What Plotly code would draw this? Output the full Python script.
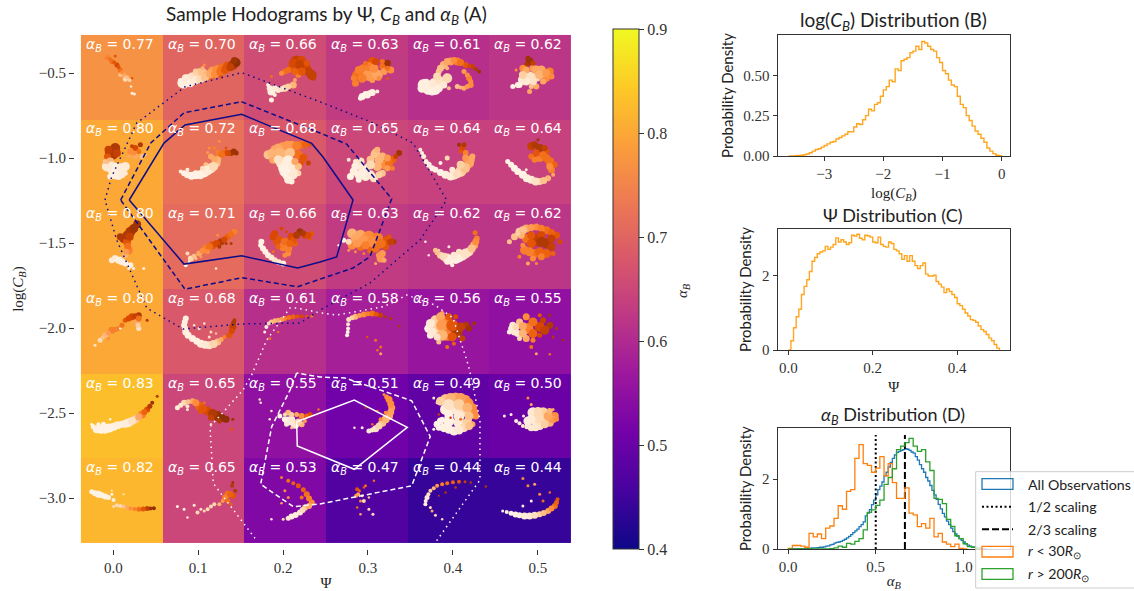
import plotly.graph_objects as go

W, H = 1134, 591

# ---------- panel A: mean alpha_B per bin ----------
ALPHA_ROW0 = [0.77, 0.70, 0.66, 0.63, 0.61, 0.62]
ALPHA_ROW1 = [0.80, 0.72, 0.68, 0.65, 0.64, 0.64]
ALPHA_ROW2 = [0.80, 0.71, 0.66, 0.63, 0.62, 0.62]
ALPHA_ROW3 = [0.80, 0.68, 0.61, 0.58, 0.56, 0.55]
ALPHA_ROW4 = [0.83, 0.65, 0.55, 0.51, 0.49, 0.50]
ALPHA_ROW5 = [0.82, 0.65, 0.53, 0.47, 0.44, 0.44]
PSI_EDGES = [-0.0381, 0.0581, 0.1542, 0.2504, 0.3466, 0.4428, 0.5391]
LOGC_EDGES = [-0.276, -0.774, -1.274, -1.771, -2.271, -2.765, -3.265]

# hodogram samples, (u, v, time shade, weight) in each cell's hodogram frame
FRAME_U = [33, 276, 519, 12, 257, 500]
FRAME_V = [45, 300, 13, 267, 13, 267]
FRAME_W, FRAME_H = 243.0, 254.0

H00 = [(110,112,.55,5),(135,108,.7,3),(125,125,.6,5),(140,135,.75,5),(150,150,.6,5),(160,165,.4,5),(165,178,.2,5),(178,180,.25,4),(185,175,.7,2.5),(182,200,.1,2.5),(185,220,.05,3),(192,222,.05,3),(150,165,.3,4),
       (120,118,.6,4),(132,128,.7,4),(145,142,.7,4),(155,158,.5,4),(170,172,.3,4),(105,108,.5,3)]
H01 = [(335,190,.05,10),(350,182,.1,12),(365,175,.15,12),(380,170,.2,11),(395,160,.3,10),(375,155,.25,6),(410,165,.35,9),(425,155,.45,10),(440,150,.5,10),(455,145,.6,10),(470,140,.7,10),(485,135,.85,10),(495,128,.95,9),(450,170,.7,4),(420,175,.6,4),(400,135,.5,3),
       (345,175,.1,8),(358,190,.05,8),(372,182,.1,9),(388,178,.2,8),(402,172,.3,8),(418,162,.4,8),(432,162,.5,8),(448,155,.6,8),(462,150,.7,8),(478,142,.8,8),(490,122,.9,7),(385,150,.3,4),(395,145,.35,4),(330,183,.05,6),(340,195,.05,7)]
H02 = [(675,125,.8,12),(690,120,.75,8),(700,145,.75,12),(720,165,.8,10),(660,145,.7,8),(640,155,.6,6),(680,165,.55,6),(665,195,.35,7),(640,205,.2,7),(620,210,.1,6),(600,215,.05,8),(590,195,.05,4),(600,240,.05,5),(610,225,.05,4),(670,180,.4,4),(600,170,.6,3),
       (665,130,.75,9),(685,135,.8,10),(705,130,.7,6),(710,155,.8,9),(690,155,.7,8),(725,175,.8,5),(670,155,.65,7),(650,150,.6,6),(630,160,.5,5),(650,200,.25,6),(630,207,.15,6),(595,205,.05,6),(610,205,.08,6)]
H03 = [(150,125,.7,9),(125,150,.55,12),(105,165,.6,10),(100,190,.55,7),(140,165,.45,12),(165,165,.4,11),(195,130,.9,7),(180,140,.6,6),(205,150,.5,7),(170,175,.5,5),(120,230,.02,7),(135,225,.02,7),(150,218,.05,7),(165,215,.05,4),(195,175,.7,3),
       (140,140,.55,9),(110,150,.55,8),(155,145,.5,9),(120,175,.55,9),(150,180,.45,6),(185,155,.45,7),(195,145,.6,5),(130,130,.6,5),(160,125,.75,7),(130,222,.02,6),(142,220,.03,6),(115,235,.02,5),(95,175,.55,6),(180,125,.6,5)]
H04 = [(305,195,.05,12),(320,205,.05,13),(340,210,.05,10),(335,190,.1,10),(355,185,.15,10),(375,175,.2,10),(350,155,.3,6),(365,135,.35,8),(385,125,.45,8),(405,125,.55,8),(430,135,.7,6),(450,140,.8,5),(470,155,.9,4),(425,155,.45,5),(440,175,.55,6),(445,195,.5,6),(425,205,.4,5),(405,200,.3,5),(380,205,.3,4),
       (300,205,.05,9),(312,190,.05,9),(330,215,.03,8),(350,205,.05,8),(365,195,.1,7),(345,170,.2,8),(355,145,.3,7),(375,125,.4,7),(395,120,.5,6),(415,128,.6,7),(440,138,.75,4),(460,148,.85,4),(435,165,.5,5),(445,185,.5,5),(435,200,.45,5),(415,203,.35,4),(375,145,.35,4)]
H05 = [(620,125,.9,8),(610,135,.85,5),(600,145,.5,7),(630,145,.45,7),(655,150,.4,9),(680,155,.55,8),(640,170,.2,10),(620,170,.15,10),(600,180,.1,10),(590,195,.05,6),(570,200,.02,5),(670,175,.5,7),(640,200,.4,6),(620,215,.4,5),(665,185,.5,4),
       (610,150,.4,7),(640,150,.4,9),(650,165,.35,9),(630,185,.15,8),(610,185,.1,8),(600,165,.25,8),(585,195,.05,6),(670,160,.45,8),(685,170,.5,6),(660,185,.4,6),(625,200,.3,5),(630,130,.8,5),(615,115,.9,5),(580,150,.5,3)]

H10 = [(125,400,.85,14),(112,410,.7,7),(195,385,.75,6),(210,375,.85,5),(180,395,.5,6),(195,410,.4,6),(215,410,.3,5),(110,440,.1,10),(130,450,.05,12),(150,455,.05,12),(165,440,.1,9),(120,470,.05,6),(145,470,.05,7),(165,460,.1,5),(225,405,.3,3),
       (135,385,.85,10),(115,390,.8,8),(140,400,.8,8),(120,425,.35,8),(105,425,.3,5),(125,440,.1,10),(140,445,.05,11),(155,445,.08,10),(135,465,.04,9),(155,465,.08,7),(205,395,.6,5),(190,400,.5,5),(185,380,.8,4),(175,410,.4,4)]
H11 = [(330,455,.05,4),(350,465,.05,7),(375,465,.03,9),(400,458,.05,10),(420,445,.15,10),(435,430,.3,9),(420,410,.4,6),(445,405,.55,8),(460,400,.65,6),(480,400,.85,6),(495,400,.9,5),(430,385,.55,4),(445,365,.5,3),(415,385,.5,3),(465,385,.7,3),(405,435,.3,5),(350,450,.05,4),
       (340,460,.03,6),(362,468,.03,8),(388,465,.03,9),(410,452,.08,10),(428,440,.2,9),(440,420,.35,7),(430,418,.4,6),(452,403,.6,7),(470,400,.75,6),(488,395,.9,6),(440,395,.55,4),(410,398,.45,3),(395,445,.15,5)]
H12 = [(590,405,.3,9),(610,390,.4,9),(635,385,.45,12),(660,380,.45,11),(690,375,.6,8),(715,375,.7,4),(605,420,.4,8),(640,410,.3,12),(680,405,.6,9),(710,430,.8,5),(690,430,.7,5),(630,430,.1,11),(655,440,.05,13),(650,465,.05,12),(635,445,.05,10),(660,485,.05,6),(680,460,.2,6),
       (600,400,.35,8),(620,385,.4,9),(648,378,.45,10),(675,378,.55,9),(700,375,.65,6),(625,400,.35,11),(655,400,.3,10),(695,415,.7,8),(620,420,.15,9),(650,425,.05,12),(665,445,.08,11),(640,455,.03,11),(665,465,.1,9),(650,480,.05,8),(680,440,.3,7),(670,425,.4,7)]
H13 = [(230,400,.9,6),(210,420,.65,8),(185,435,.5,9),(160,400,.3,9),(145,420,.3,8),(180,410,.35,8),(115,425,.15,8),(80,420,.1,4),(100,440,.05,8),(85,470,.02,7),(110,465,.05,9),(130,470,.1,9),(155,475,.15,8),(180,460,.3,7),(210,445,.55,5),(130,445,.1,8),(110,480,.05,6),
       (220,410,.8,5),(200,430,.6,8),(195,415,.45,7),(170,420,.35,9),(155,405,.3,7),(165,440,.35,9),(145,435,.2,9),(120,445,.08,8),(125,465,.05,9),(95,455,.05,8),(145,465,.1,9),(170,465,.25,7),(165,390,.35,6),(195,445,.45,6),(100,425,.1,5)]
H14 = [(295,390,.05,4),(305,410,.05,5),(320,435,.05,6),(340,450,.03,6),(370,465,.05,8),(395,465,.15,10),(415,455,.25,11),(440,430,.4,10),(450,410,.4,6),(420,385,.75,6),(430,400,.55,6),(410,375,.9,4),(375,415,.2,5),(355,430,.02,4),
       (300,400,.05,4),(312,425,.04,5),(330,445,.03,6),(355,458,.03,7),(385,470,.08,8),(405,462,.18,9),(428,445,.3,10),(445,420,.4,8),(430,415,.45,7),(415,395,.7,4),(425,375,.85,5),(390,450,.1,6),(415,435,.25,8)]
H15 = [(625,380,.8,8),(650,385,.85,8),(670,395,.7,6),(625,410,.6,6),(650,415,.55,8),(680,425,.6,9),(685,450,.55,7),(555,425,.02,5),(575,445,.02,7),(600,465,.03,8),(625,480,.1,8),(650,485,.25,7),(675,475,.35,6),(590,455,.05,4),(610,450,.1,3),
       (635,375,.85,7),(665,385,.8,6),(640,400,.7,7),(660,405,.6,7),(635,420,.55,6),(670,415,.6,8),(695,435,.65,6),(680,440,.5,7),(565,435,.02,6),(585,455,.02,7),(612,475,.05,8),(638,485,.15,8),(662,482,.3,7),(690,465,.4,4),(645,360,.9,3)]

H20 = [(200,72,.9,8),(180,95,.85,10),(160,115,.85,9),(170,125,.7,8),(175,150,.55,8),(165,165,.35,6),(135,175,.1,7),(155,185,.05,7),(180,195,.05,6),(190,205,.03,3),(220,205,.05,3),(150,175,.1,4),
       (190,85,.9,9),(170,105,.85,9),(150,110,.85,7),(178,110,.8,8),(172,138,.6,7),(168,155,.45,6),(125,180,.08,6),(145,180,.05,7),(165,190,.04,6),(175,205,.05,3)]
H21 = [(345,195,.05,4),(360,175,.2,6),(350,160,.2,4),(385,160,.4,6),(405,145,.55,8),(425,135,.7,8),(450,125,.85,7),(470,110,.65,6),(490,95,.55,6),(480,130,.85,3),(440,105,.5,3),(375,175,.3,3),(435,205,.1,2.5),
       (395,152,.5,6),(415,140,.6,7),(437,130,.75,7),(460,118,.75,6),(480,102,.6,6),(370,168,.3,5),(355,185,.1,3),(410,155,.5,5),(445,140,.85,4),(465,130,.85,3),(390,170,.45,3)]
H22 = [(570,125,.02,6),(575,145,.03,6),(590,165,.05,6),(610,180,.15,6),(635,190,.05,6),(610,100,.75,7),(630,85,.75,4),(615,125,.7,7),(635,140,.55,9),(660,110,.75,8),(685,95,.9,7),(700,105,.75,7),(720,100,.7,5),(650,160,.5,6),(670,130,.65,6),(715,115,.7,4),(605,155,.6,3),
       (568,135,.02,5),(582,155,.04,6),(600,172,.1,6),(622,186,.1,6),(605,110,.75,7),(625,115,.7,6),(640,125,.6,8),(650,145,.55,8),(665,120,.7,7),(675,105,.85,7),(695,100,.85,6),(710,105,.75,6),(640,165,.5,5),(655,130,.65,7),(620,140,.65,5),(645,95,.75,3)]
H23 = [(90,100,.35,10),(115,105,.4,11),(140,110,.5,12),(165,115,.55,12),(195,120,.7,9),(215,125,.85,5),(65,120,.05,5),(90,135,.5,9),(115,140,.6,8),(145,150,.65,7),(190,140,.7,7),(175,175,.45,8),(160,190,.4,3),(100,155,.5,3),(125,160,.55,3),(50,135,.05,2.5),
       (100,115,.4,9),(125,120,.45,10),(150,125,.5,11),(175,130,.6,10),(205,125,.8,7),(80,125,.2,6),(105,130,.45,8),(130,135,.55,8),(160,145,.6,8),(180,160,.45,7),(185,180,.4,5),(170,165,.45,6),(80,150,.45,3),(200,110,.7,5)]
H24 = [(310,125,.02,2.5),(320,165,.05,2.5),(340,150,.3,5),(355,165,.25,7),(375,175,.1,10),(400,175,.05,11),(420,165,.1,11),(440,155,.2,9),(455,135,.4,8),(463,115,.55,6),(458,98,.6,5),(380,140,.1,3),(390,195,.03,4),
       (345,158,.3,5),(365,170,.18,8),(385,180,.05,9),(410,172,.05,10),(430,160,.15,10),(448,145,.3,8),(460,125,.5,7),(395,165,.1,7),(410,155,.15,6),(375,185,.05,6),(350,150,.25,3)]
H25 = [(590,95,.25,8),(575,110,.3,7),(560,125,.3,5),(610,85,.4,8),(640,80,.5,7),(670,90,.6,8),(700,105,.7,7),(710,125,.75,5),(610,115,.6,9),(640,120,.8,12),(670,130,.85,10),(605,150,.55,9),(635,160,.6,9),(670,160,.65,9),(690,160,.65,5),(615,190,.4,4),(590,170,.55,4),(640,190,.5,3),
       (600,90,.3,8),(625,82,.45,7),(655,84,.55,7),(685,97,.65,7),(595,105,.35,7),(625,105,.7,8),(655,105,.75,8),(685,115,.8,8),(625,130,.7,9),(655,125,.85,10),(685,140,.8,8),(620,155,.55,9),(650,155,.65,9),(655,170,.55,7),(630,175,.5,6),(600,135,.5,5),(585,100,.25,5)]

H30 = [(75,435,.15,3),(90,420,.2,5),(105,405,.35,6),(125,390,.55,7),(145,385,.55,5),(165,360,.7,5),(185,350,.75,7),(205,345,.85,6),(200,365,.4,7),(205,385,.15,5),(230,360,.85,3),(150,385,.03,2.5),(115,415,.5,3),
       (115,398,.45,5),(135,388,.55,5),(155,375,.6,5),(175,355,.75,6),(195,348,.8,6),(205,355,.6,6),(98,412,.3,4),(203,375,.25,5)]
H31 = [(345,355,.05,6),(340,375,.05,6),(345,395,.05,7),(365,415,.05,7),(390,430,.05,8),(415,435,.15,8),(440,425,.3,7),(460,410,.55,4),(490,360,.85,4),(485,380,.8,7),(475,405,.7,6),(370,375,.1,2.5),(400,370,.1,2.5),(420,395,.2,3),(415,410,.15,3),(435,400,.3,2.5),(385,385,.05,3),
       (342,365,.05,6),(343,385,.05,6),(352,405,.04,7),(378,423,.04,7),(402,433,.1,8),(428,431,.22,8),(450,418,.4,5),(482,392,.75,6),(487,368,.85,5)]
H32 = [(580,395,.05,3),(585,380,.05,4),(600,365,.3,5),(620,360,.4,5),(640,355,.55,5),(665,350,.65,5),(690,348,.75,4),(720,348,.6,3),(595,415,.6,3),(620,395,.6,2.5),
       (610,362,.35,5),(630,358,.45,5),(652,352,.6,5),(678,349,.7,4),(705,348,.7,3),(592,370,.2,4)]
H33 = [(75,405,.02,4),(78,385,.05,4),(80,358,.15,5),(100,350,.35,6),(125,343,.5,6),(150,340,.6,6),(175,345,.8,5),(205,355,.85,3),(230,378,.85,2.5),(135,410,.7,2.5),(160,420,.6,3),(175,440,.6,3),(165,450,.6,2.5),(175,460,.4,3),
       (77,395,.03,4),(78,372,.1,4),(90,353,.25,5),(112,346,.45,5),(137,341,.55,5),(162,342,.7,5),(190,350,.85,3)]
H34 = [(320,385,.03,9),(325,405,.05,7),(340,360,.25,10),(345,390,.25,14),(370,370,.55,14),(380,350,.7,7),(375,405,.55,11),(405,395,.85,11),(430,375,.85,7),(455,370,.9,4),(420,415,.8,6),(350,425,.3,5),(360,340,.45,5),(375,440,.6,4),
       (325,370,.1,9),(355,350,.4,9),(330,395,.1,9),(360,375,.45,12),(360,405,.35,11),(390,375,.7,12),(415,380,.8,9),(390,410,.7,9),(345,410,.15,7),(400,350,.75,5),(440,385,.9,6),(395,430,.65,4)]
H35 = [(560,395,.03,5),(570,375,.1,7),(585,400,.1,7),(590,365,.3,7),(610,350,.5,7),(650,345,.7,4),(680,345,.9,3),(615,385,.55,11),(650,380,.75,10),(680,375,.85,7),(610,415,.4,7),(650,405,.75,5),(690,410,.85,3),(720,420,.9,2.5),(625,440,.6,4),(640,460,.4,3),(680,462,.6,2.5),
       (565,385,.07,6),(575,395,.1,7),(580,380,.2,7),(600,378,.4,8),(600,400,.35,8),(630,365,.6,9),(630,400,.65,9),(665,390,.8,9),(660,360,.8,6),(630,420,.55,5),(590,415,.2,5),(700,385,.85,3)]

H40 = [(65,165,.02,3),(80,180,.03,8),(105,178,.02,10),(130,172,.03,8),(155,165,.05,7),(175,160,.1,9),(195,150,.25,8),(215,135,.55,8),(230,120,.75,6),(245,100,.9,4),(260,80,.85,3),(120,150,.03,2.5),
       (70,172,.03,5),(92,180,.02,9),(118,176,.02,9),(142,168,.04,8),(165,163,.07,8),(185,155,.15,8),(205,143,.4,7),(222,128,.65,6),(238,110,.85,5),(100,165,.03,5),(85,165,.03,4)]
H41 = [(320,115,.08,5),(340,100,.2,6),(365,95,.4,6),(385,110,.65,9),(410,125,.75,9),(440,140,.9,10),(465,150,.95,7),(480,180,.7,3),(350,120,.1,3),(400,100,.6,3),(420,165,.2,2.5),(485,150,.9,3),
       (330,107,.12,5),(352,97,.3,5),(375,100,.5,7),(397,118,.7,8),(425,132,.85,9),(452,145,.95,8),(390,125,.7,6),(420,145,.8,6),(445,155,.85,5),(350,110,.15,4)]
H42 = [(565,90,.1,2.5),(568,100,.1,2.5),(600,125,.05,2.5),(595,150,.05,2.5),(625,140,.02,5),(650,130,.35,6),(650,155,.05,9),(670,165,.1,9),(690,165,.35,6),(690,140,.5,6),(715,135,.75,5),(740,120,.6,2.5),(660,175,.3,3),
       (640,150,.03,6),(660,150,.1,7),(680,158,.25,7),(660,135,.25,5),(675,135,.4,5),(705,140,.65,5),(640,135,.2,4),(700,155,.45,4),(645,165,.1,5)]
H43 = [(185,75,.5,3),(200,90,.5,7),(208,115,.45,7),(200,140,.4,8),(180,160,.3,8),(160,178,.15,7),(140,185,.1,5),(120,175,.05,3),(97,175,.05,2.5),(130,115,.85,2.5),(165,125,.7,2.5),(150,165,.6,2.5),
       (193,82,.5,5),(205,103,.5,7),(205,128,.42,7),(190,150,.35,8),(170,170,.22,7),(150,182,.12,5),(190,130,.5,4),(175,150,.5,4)]
H44 = [(380,155,.03,11),(410,160,.08,11),(435,160,.25,10),(355,155,.03,7),(335,85,.1,3),(345,100,.1,3),(370,90,.3,11),(400,85,.4,11),(430,90,.45,9),(450,115,.5,9),(460,140,.5,7),(395,115,.1,13),(425,125,.2,11),(370,120,.05,11),(345,165,.02,7),(365,175,.03,9),(395,185,.05,9),(425,175,.2,9),(450,165,.4,6),(335,180,.02,3),
       (355,95,.25,9),(385,85,.35,10),(415,85,.42,10),(440,100,.48,9),(455,128,.5,8),(380,105,.15,11),(410,105,.25,11),(435,115,.35,10),(440,140,.3,9),(410,140,.1,11),(380,140,.03,9),(350,175,.03,6),(380,180,.04,9),(410,182,.1,9),(440,170,.3,8),(360,150,.03,5),
       (350,135,.8,2.5),(385,145,.8,2.5),(415,150,.6,3)]
H45 = [(640,160,.1,9),(660,150,.2,9),(680,145,.35,9),(545,140,.03,3),(565,135,.03,3),(580,155,.05,4),(600,170,.1,4),(625,175,.1,7),(650,170,.15,8),(680,160,.35,8),(695,140,.5,8),(660,130,.25,11),(630,130,.1,11),(615,155,.05,9),(690,120,.4,3),(625,105,.4,3),(615,85,.5,3),
       (590,162,.08,4),(612,172,.1,5),(638,175,.12,7),(665,165,.25,8),(688,150,.45,8),(675,140,.4,9),(645,145,.2,11),(625,150,.08,9),(645,125,.2,8),(680,125,.35,6),(700,150,.5,5),(602,140,.05,3)]

H50 = [(65,368,.02,5),(85,375,.02,7),(105,382,.02,6),(130,392,.05,4),(140,408,.2,4),(160,412,.3,4),(180,418,.5,4),(205,420,.6,5),(230,418,.8,5),(250,417,.95,4),(125,365,.1,2),(160,375,.1,2),
       (75,372,.02,6),(95,378,.02,6),(115,385,.03,5),(125,375,.03,3),(150,410,.2,4),(170,415,.4,4),(192,419,.55,4),(218,419,.7,5),(240,418,.9,4),(130,412,.2,3)]
H51 = [(320,412,.05,3),(340,420,.05,3),(370,408,.1,3),(380,430,.2,4),(410,420,.2,4),(430,405,.2,4),(455,395,.45,4),(470,375,.6,7),(485,380,.7,6),(483,350,.85,4),(350,445,.1,2.5),(480,405,.65,3),
       (462,385,.55,6),(478,375,.65,6),(492,365,.85,4),(470,395,.6,5),(445,405,.35,4),(420,412,.2,4),(400,425,.2,3),(485,340,.9,3),(390,420,.15,3)]
H52 = [(630,325,.55,3),(650,335,.6,4),(680,350,.7,5),(705,375,.6,6),(720,400,.5,6),(700,415,.3,6),(685,430,.1,6),(660,442,.05,6),(635,450,.2,3),(640,365,.5,3),(650,385,.5,3),(630,402,.4,2.5),(600,450,.1,2.5),
       (665,342,.65,4),(695,362,.65,5),(712,388,.55,6),(712,410,.4,6),(693,422,.2,6),(672,437,.08,6),(650,447,.1,5),(690,385,.6,4)]
H53 = [(108,375,.4,4),(105,360,.7,4),(130,350,.6,3),(155,335,.6,2.5),(115,395,.5,3),(125,395,.2,4),(105,415,.6,2.5),(115,435,.4,2.5),(140,420,.2,3),(152,435,.15,3),(140,385,.3,2.5),
       (102,380,.45,4),(112,365,.65,3),(120,380,.3,3),(125,355,.7,2.5)]
H54 = [(310,405,.02,4),(315,385,.1,5),(325,365,.25,4),(345,350,.45,4),(375,342,.6,4),(410,338,.7,4),(445,340,.85,2.5),(490,352,.85,2.5),(330,425,.4,3),(340,438,.2,3),(360,450,.2,2.5),(370,370,.85,2.5),(400,355,.8,2.5),(350,380,.8,2),
       (311,395,.05,4),(319,375,.15,4),(335,357,.35,4),(360,345,.55,4),(392,339,.65,4),(428,338,.8,3),(325,415,.2,3)]
H55 = [(540,425,.03,3),(565,432,.03,5),(590,438,.05,6),(620,440,.1,7),(650,435,.25,6),(675,425,.4,6),(695,410,.6,6),(703,390,.7,4),(600,328,.5,3),(615,350,.5,3),(635,345,.4,3),(650,375,.5,3),(625,395,.05,3),(600,410,.05,3),(660,395,.6,3),(680,370,.6,2.5),
       (552,428,.03,4),(578,436,.03,6),(605,440,.07,7),(635,438,.17,7),(662,431,.32,6),(685,418,.5,6),(700,400,.65,5)]

# density contours, (psi, log C_B)
NAVY_SOLID_PSI = [0.0188, 0.0597, 0.0845, 0.1512, 0.2337, 0.2470, 0.2824, 0.2631, 0.2435, 0.2172, 0.1512, 0.0833, 0.0188]
NAVY_SOLID_LOGC = [-1.247, -0.912, -0.806, -0.743, -0.914, -0.994, -1.247, -1.582, -1.612, -1.647, -1.575, -1.624, -1.247]
NAVY_DASH_PSI = [0.0087, 0.0441, 0.0833, 0.1512, 0.2435, 0.2749, 0.3279, 0.3023, 0.2824, 0.2435, 0.2172, 0.1512, 0.0845, 0.0087]
NAVY_DASH_LOGC = [-1.247, -0.912, -0.734, -0.669, -0.853, -0.918, -1.240, -1.581, -1.647, -1.712, -1.757, -1.704, -1.772, -1.247]
NAVY_DOT_PSI = [-0.0098, -0.0019, 0.0276, 0.0845, 0.1512, 0.2470, 0.3024, 0.3530, 0.3927, 0.3613, 0.3024, 0.2435, 0.2199, 0.1512, 0.0821, 0.0393, 0.0040, -0.0098]
NAVY_DOT_LOGC = [-1.247, -1.110, -0.794, -0.581, -0.498, -0.676, -0.786, -0.912, -1.247, -1.482, -1.735, -1.894, -1.971, -1.976, -2.006, -1.882, -1.482, -1.247]
WHITE_SOLID_PSI = [0.2160, 0.2839, 0.3463, 0.2839, 0.2167, 0.2160]
WHITE_SOLID_LOGC = [-2.551, -2.424, -2.584, -2.831, -2.694, -2.551]
WHITE_DASH_PSI = [0.2160, 0.2082, 0.1866, 0.1736, 0.2120, 0.2435, 0.3515, 0.3733, 0.3515, 0.2729, 0.2435, 0.2160]
WHITE_DASH_LOGC = [-2.265, -2.365, -2.580, -2.919, -3.051, -3.035, -2.928, -2.639, -2.428, -2.294, -2.288, -2.265]
WHITE_DOT_PSI = [0.3809, 0.4319, 0.4319, 0.4201, 0.4163, 0.4001, 0.3789, 0.3456, 0.3279, 0.3177, 0.2631, 0.2435, 0.2160, 0.2081, 0.1807, 0.1630, 0.1528, 0.1336, 0.1139, 0.1178, 0.1669]
WHITE_DOT_LOGC = [-3.251, -2.894, -2.541, -2.257, -2.188, -1.941, -1.865, -1.806, -1.853, -1.875, -1.924, -1.910, -1.882, -1.882, -2.071, -2.276, -2.365, -2.471, -2.581, -2.914, -3.237]

# ---------- panel B ----------
LOGC_START, LOGC_WIDTH = -3.6, 0.05
LOGC_DENSITY = [0.0, .001, .002, .003, .005, .008, .012, .02, .03, .04, .045, .055, .065, .075, .085, .09, .105, .115, .125, .135,
                .15, .15, .18, .2, .195, .225, .25, .29, .28, .32, .33, .37, .41, .43, .47, .46, .54, .53, .59, .6, .61, .64, .65,
                .68, .66, .71, .7, .68, .66, .65, .61, .58, .53, .51, .47, .44, .43, .37, .32, .3, .25, .22, .185, .155, .135, .11,
                .085, .05, .03, .015, .005, .002]
# ---------- panel C ----------
PSI_START, PSI_WIDTH = 0.0, 0.00625
PSI_DENSITY = [0.0, .25, .6, .9, 1.1, 1.5, 1.72, 1.9, 2.12, 2.4, 2.5, 2.6, 2.65, 2.68, 2.8, 2.72, 2.78, 2.85, 3.03, 2.92, 2.98, 2.92,
               2.85, 2.9, 3.1, 3.08, 3.13, 3.02, 2.98, 3.1, 3.08, 3.05, 2.92, 2.9, 3.05, 2.85, 2.8, 2.78, 2.92, 2.88, 2.72, 2.68,
               2.6, 2.45, 2.55, 2.4, 2.55, 2.4, 2.28, 2.2, 2.28, 2.35, 2.05, 2.0, 2.0, 2.02, 1.85, 1.78, 1.7, 1.55, 1.65, 1.58,
               1.5, 1.42, 1.25, 1.2, 1.1, 1.0, .92, .82, .8, .75, .65, .55, .5, .42, .32, .25, .15, .05]
# ---------- panel D ----------
ALPHA_START = 0.0
ALL_WIDTH, SUB_WIDTH = 0.0119, 0.0238
ALL_DENSITY = [0, 0, 0, 0, .01, .01, .01, .01, .02, .02, .02, .03, .03, .03, .04, .05, .05, .06, .08, .09, .12, .13, .17, .19, .2,
               .22, .25, .28, .32, .36, .41, .47, .52, .57, .64, .7, .78, .95, 1.03, 1.13, 1.27, 1.4, 1.55, 1.7, 1.8, 1.92, 2.1,
               2.2, 2.35, 2.48, 2.6, 2.7, 2.77, 2.8, 2.83, 2.85, 2.88, 2.86, 2.83, 2.78, 2.75, 2.65, 2.55, 2.42, 2.3, 2.2, 2.05,
               1.95, 1.82, 1.68, 1.55, 1.42, 1.28, 1.15, 1.02, .92, .8, .7, .6, .5, .43, .36, .3, .25, .2, .15, .11, .08, .06, .05,
               .03, .03, .02, .01, .01]
NEAR_DENSITY = [.02, .1, .1, .08, .05, .45, .35, .43, .3, .6, .66, .88, 1.24, 1.14, 1.65, 1.7, 2.6, 2.99, 2.45, 2.4, 2.2, 2.32, 2.65,
                2.1, 2.45, 1.9, 1.45, 1.45, 1.75, 1.03, .98, .64, .73, .6, .88, .35, .45, .2, .14, .07, .14, .02, 0]
FAR_DENSITY = [0, 0, 0, 0, 0, 0, 0, 0, 0, 0, .01, .03, .08, .05, .16, .14, .22, .3, .55, 1.05, 1.12, 1.25, 1.4, 1.85, 2.05, 2.3, 2.85,
               2.95, 3.05, 3.17, 2.95, 2.8, 2.85, 2.5, 2.25, 1.45, 1.42, 1.3, .85, .65, .38, .3, .15, .07, .05, .02]
SCALING_HALF, SCALING_TWO_THIRDS, SCALING_TOP = 0.5, 2 / 3, 3.27
LEGEND_NAMES = ["All Observations", "1/2 scaling", "2/3 scaling",
                "<i>r</i> &lt; 30<i>R</i><sub>⊙</sub>", "<i>r</i> &gt; 200<i>R</i><sub>⊙</sub>"]

PSI_TICKS = [0.0, 0.1, 0.2, 0.3, 0.4, 0.5]
LOGC_TICKS = [-0.5, -1.0, -1.5, -2.0, -2.5, -3.0]
LOGC_LABELS = ["−0.5", "−1.0", "−1.5", "−2.0", "−2.5", "−3.0"]

SERIF = "Liberation Serif"
SANS = "Lato"
DEJAVU = "DejaVu Sans"
INK = "#333333"
ORANGE = "#ffa51e"
BLUE, C_ORANGE, GREEN = "#1f77b4", "#ff7f0e", "#2ca02c"
NAVY = "#0d0d8a"


def px(x):
    return x / W


def py(y):
    return 1 - y / H


def dom_x(a, b):
    return [px(a), px(b)]


def dom_y(top, bottom):
    return [py(bottom), py(top)]


def steps(start, width, vals):
    xs = [start + i * width for i in range(len(vals) + 1)]
    return [start] + xs, [0] + list(vals) + [0]


fig = go.Figure()

# heatmap
alpha_rows = [ALPHA_ROW0, ALPHA_ROW1, ALPHA_ROW2, ALPHA_ROW3, ALPHA_ROW4, ALPHA_ROW5]
fig.add_trace(go.Heatmap(
    x=PSI_EDGES, y=LOGC_EDGES, z=alpha_rows, zmin=0.4, zmax=0.9, colorscale="Plasma", hoverinfo="skip",
    colorbar=dict(x=px(613), xanchor="left", xpad=0, ypad=0, y=py(29), yanchor="top", thickness=26, thicknessmode="pixels",
                  len=520 / H, lenmode="fraction", tickvals=[0.4, 0.5, 0.6, 0.7, 0.8, 0.9],
                  ticktext=["0.4", "0.5", "0.6", "0.7", "0.8", "0.9"], ticks="outside", ticklen=5, tickcolor=INK,
                  tickfont=dict(family=SERIF, size=16, color=INK), outlinecolor=INK, outlinewidth=1),
))

# hodograms
hodo_rows = [[H00, H01, H02, H03, H04, H05], [H10, H11, H12, H13, H14, H15], [H20, H21, H22, H23, H24, H25],
             [H30, H31, H32, H33, H34, H35], [H40, H41, H42, H43, H44, H45], [H50, H51, H52, H53, H54, H55]]
for r, row in enumerate(hodo_rows):
    for c, pts in enumerate(row):
        x0, x1 = PSI_EDGES[c], PSI_EDGES[c + 1]
        y0, y1 = LOGC_EDGES[r], LOGC_EDGES[r + 1]
        fig.add_trace(go.Scatter(
            x=[x0 + (p[0] - FRAME_U[c]) / FRAME_W * (x1 - x0) for p in pts],
            y=[y0 + (p[1] - FRAME_V[r]) / FRAME_H * (y1 - y0) for p in pts],
            mode="markers", hoverinfo="skip", showlegend=False,
            marker=dict(color=[p[2] for p in pts], size=[p[3] for p in pts], colorscale="Oranges", cmin=0, cmax=1,
                        showscale=False, opacity=1, line=dict(width=0)),
        ))

# contours
for xs, ys, col, dash in [
    (NAVY_SOLID_PSI, NAVY_SOLID_LOGC, NAVY, "solid"), (NAVY_DASH_PSI, NAVY_DASH_LOGC, NAVY, "5px,3px"),
    (NAVY_DOT_PSI, NAVY_DOT_LOGC, NAVY, "1.5px,4px"), (WHITE_SOLID_PSI, WHITE_SOLID_LOGC, "white", "solid"),
    (WHITE_DASH_PSI, WHITE_DASH_LOGC, "white", "5px,3px"), (WHITE_DOT_PSI, WHITE_DOT_LOGC, "white", "1.5px,4px"),
]:
    fig.add_trace(go.Scatter(x=xs, y=ys, mode="lines", hoverinfo="skip", showlegend=False,
                             line=dict(color=col, width=1.5, dash=dash)))

# histograms
bx, by = steps(LOGC_START, LOGC_WIDTH, LOGC_DENSITY)
fig.add_trace(go.Scatter(x=bx, y=by, xaxis="x2", yaxis="y2", mode="lines", line=dict(color=ORANGE, width=1.4, shape="hv")))
cx, cy = steps(PSI_START, PSI_WIDTH, PSI_DENSITY)
fig.add_trace(go.Scatter(x=cx, y=cy, xaxis="x3", yaxis="y3", mode="lines", line=dict(color=ORANGE, width=1.4, shape="hv")))
dx, dy = steps(ALPHA_START, ALL_WIDTH, ALL_DENSITY)
fig.add_trace(go.Scatter(x=dx, y=dy, xaxis="x4", yaxis="y4", mode="lines", line=dict(color=BLUE, width=1.3, shape="hv")))
fig.add_trace(go.Scatter(x=[SCALING_HALF, SCALING_HALF], y=[0, SCALING_TOP], xaxis="x4", yaxis="y4", mode="lines",
                         line=dict(color="black", width=2, dash="2px,2.5px")))
fig.add_trace(go.Scatter(x=[SCALING_TWO_THIRDS, SCALING_TWO_THIRDS], y=[0, SCALING_TOP], xaxis="x4", yaxis="y4", mode="lines",
                         line=dict(color="black", width=2, dash="7px,3px")))
dx, dy = steps(ALPHA_START, SUB_WIDTH, NEAR_DENSITY)
fig.add_trace(go.Scatter(x=dx, y=dy, xaxis="x4", yaxis="y4", mode="lines", line=dict(color=C_ORANGE, width=1.3, shape="hv")))
dx, dy = steps(ALPHA_START, SUB_WIDTH, FAR_DENSITY)
fig.add_trace(go.Scatter(x=dx, y=dy, xaxis="x4", yaxis="y4", mode="lines", line=dict(color=GREEN, width=1.3, shape="hv")))

# annotations
ann = []
for r, row in enumerate(alpha_rows):
    for c, val in enumerate(row):
        ann.append(dict(x=PSI_EDGES[c] + 0.0035, y=LOGC_EDGES[r] - 0.058, xref="x", yref="y", xanchor="left", yanchor="middle",
                        text=f"<i>α<sub>B</sub></i> = {val:.2f}", showarrow=False,
                        font=dict(family=DEJAVU, size=14, color="white")))


def label(x, y, text, family=SANS, size=18, angle=0, anchor="center", color="#222222"):
    ann.append(dict(x=px(x), y=py(y), xref="paper", yref="paper", xanchor=anchor, yanchor="middle", text=text, showarrow=False,
                    textangle=angle, font=dict(family=family, size=size, color=color)))


label(326, 15, "Sample Hodograms by Ψ, <i>C<sub>B</sub></i> and <i>α<sub>B</sub></i> (A)", size=19)
label(893, 21, "log(<i>C<sub>B</sub></i>) Distribution (B)", size=19)
label(893, 215, "Ψ Distribution (C)")
label(893, 415, "<i>α<sub>B</sub></i> Distribution (D)")
label(683, 291, "<i>α<sub>B</sub></i>", family=SERIF, size=15, angle=-90)

# legend box
shapes = [dict(type="rect", xref="paper", yref="paper", x0=px(975.7), x1=px(1140), y0=py(588), y1=py(471.7),
               fillcolor="rgba(255,255,255,0.8)", line=dict(color="#cccccc", width=1), layer="above")]
rows_y = [484, 506.7, 529.3, 551.7, 574]
for yy, name, col, kind in zip(rows_y, LEGEND_NAMES, [BLUE, "black", "black", C_ORANGE, GREEN],
                               ["rect", "2px,2.5px", "7px,3px", "rect", "rect"]):
    if kind == "rect":
        shapes.append(dict(type="rect", xref="paper", yref="paper", x0=px(982), x1=px(1013), y0=py(yy + 5.3), y1=py(yy - 5.3),
                           fillcolor="rgba(0,0,0,0)", line=dict(color=col, width=1.3), layer="above"))
    else:
        shapes.append(dict(type="line", xref="paper", yref="paper", x0=px(982), x1=px(1013), y0=py(yy), y1=py(yy),
                           line=dict(color=col, width=2, dash=kind), layer="above"))
    label(1026, yy, name, size=14.2, anchor="left")


def ax_main(domain, rng, ticks, text, title, standoff, anchor, **kw):
    return dict(domain=domain, range=rng, tickvals=ticks, ticktext=text, anchor=anchor, showgrid=False, zeroline=False,
                ticks="outside", ticklen=5, tickcolor=INK, tickfont=dict(family=SERIF, size=15, color=INK),
                title=dict(text=title, standoff=standoff, font=dict(family=SERIF, size=15, color="#222222")), **kw)


def ax_panel(domain, rng, ticks, text, title, standoff, anchor, family=SERIF, size=15):
    return dict(domain=domain, range=rng, tickvals=ticks, ticktext=text, anchor=anchor, showgrid=False, zeroline=False,
                ticks="outside", ticklen=4, tickcolor=INK, showline=True, mirror=True, linecolor=INK, linewidth=1.3,
                tickfont=dict(family=SERIF, size=15, color=INK),
                title=dict(text=title, standoff=standoff, font=dict(family=family, size=size, color="#222222")))


PROB = "Probability Density"
fig.update_layout(
    width=W, height=H, margin=dict(l=0, r=0, t=0, b=0, autoexpand=False), autosize=False, paper_bgcolor="white", plot_bgcolor="white", showlegend=False,
    annotations=ann, shapes=shapes,
    xaxis=ax_main(dom_x(75, 577), [-0.0451, 0.5462], PSI_TICKS, [f"{v:.1f}" for v in PSI_TICKS], "Ψ", 11, "y"),
    yaxis=ax_main(dom_y(29, 549), [-3.3, -0.241], LOGC_TICKS, LOGC_LABELS, "log(<i>C<sub>B</sub></i>)", 11, "x"),
    xaxis2=ax_panel(dom_x(777.7, 1010), [-3.785, 0.14], [-3, -2, -1, 0], ["−3", "−2", "−1", "0"], "log(<i>C<sub>B</sub></i>)", 6, "y2"),
    yaxis2=ax_panel(dom_y(35, 156), [0, 0.75], [0, 0.25, 0.5], ["0.00", "0.25", "0.50"], PROB, 6, "x2", family=SANS),
    xaxis3=ax_panel(dom_x(777.7, 1010), [-0.025, 0.525], [0, 0.2, 0.4], ["0.0", "0.2", "0.4"], "Ψ", 6, "y3"),
    yaxis3=ax_panel(dom_y(229, 350), [0, 3.27], [0, 2], ["0", "2"], PROB, 6, "x3", family=SANS),
    xaxis4=ax_panel(dom_x(777.7, 1010), [-0.06, 1.267], [0, 0.5, 1], ["0.0", "0.5", "1.0"], "<i>α<sub>B</sub></i>", 6, "y4"),
    yaxis4=ax_panel(dom_y(428.3, 549), [0, 3.46], [0, 2], ["0", "2"], PROB, 6, "x4", family=SANS),
)

fig.write_html("out.html", config={"displayModeBar": False},
               post_script="document.body.style.margin='0';document.body.style.overflow='hidden';")
